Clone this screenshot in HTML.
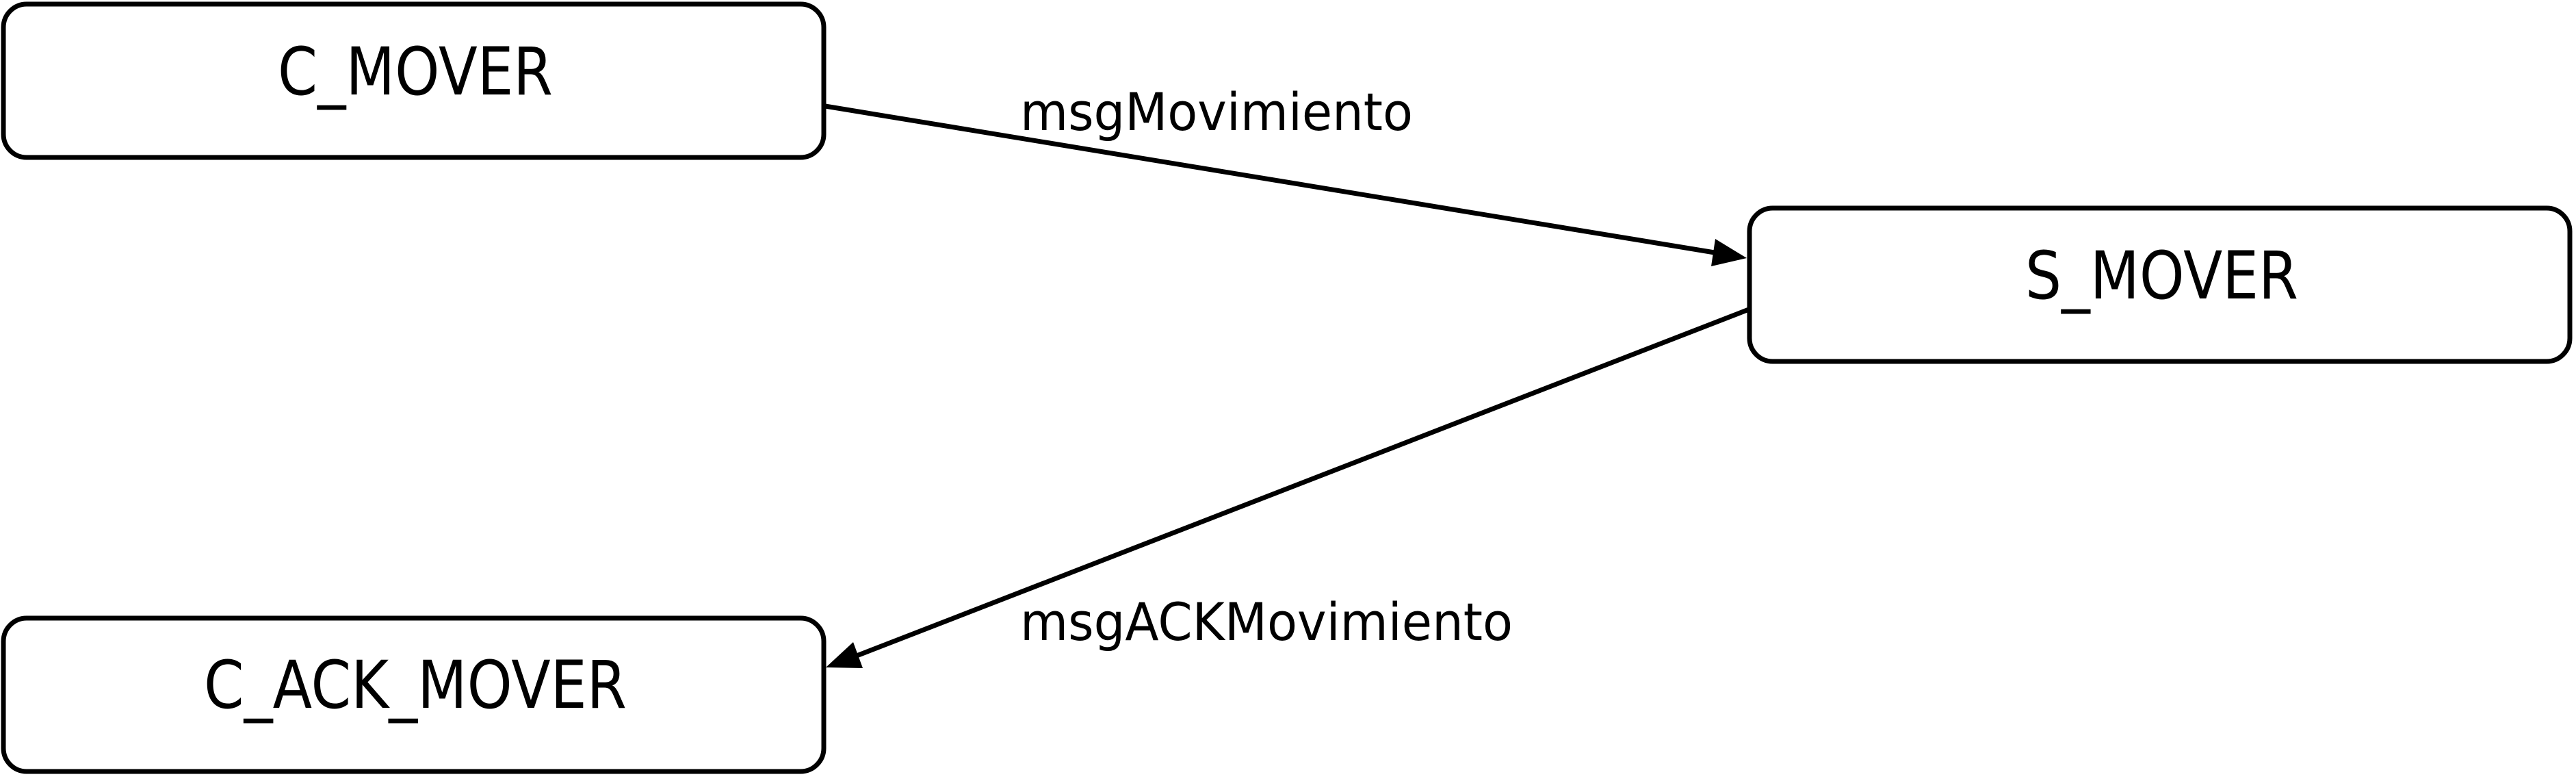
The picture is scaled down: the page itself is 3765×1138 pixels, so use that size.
<!DOCTYPE html>
<html><head><meta charset="utf-8"><style>html,body{margin:0;padding:0;background:#fff}svg{display:block}</style></head>
<body>
<svg width="3765" height="1138" viewBox="0 0 3765 1138" xmlns="http://www.w3.org/2000/svg">
<g fill="#fff" stroke="#000" stroke-width="7">
<rect x="5" y="6" width="1199" height="224" rx="34" ry="34"/>
<rect x="2557" y="304" width="1199" height="224" rx="34" ry="34"/>
<rect x="5" y="903" width="1199" height="224" rx="34" ry="34"/>
</g>
<g stroke="#000" stroke-width="7" fill="none">
<line x1="1206" y1="155" x2="2506" y2="369"/>
<line x1="2556" y1="452" x2="1252" y2="958"/>
</g>
<g fill="#000" stroke="none">
<polygon points="2553,377 2501,389 2507,349"/>
<polygon points="1207,975 1247,938 1261,976"/>
</g>
<g font-family="'DejaVu Sans','Liberation Sans',sans-serif" fill="#000">
<text x="406" y="138" font-size="96" textLength="402" lengthAdjust="spacingAndGlyphs">C_MOVER</text>
<text x="2960" y="436" font-size="96" textLength="399" lengthAdjust="spacingAndGlyphs">S_MOVER</text>
<text x="298" y="1034" font-size="96" textLength="618" lengthAdjust="spacingAndGlyphs">C_ACK_MOVER</text>
<text x="1491" y="190" font-size="76" textLength="574" lengthAdjust="spacingAndGlyphs">msgMovimiento</text>
<text x="1491" y="935" font-size="76" textLength="720" lengthAdjust="spacingAndGlyphs">msgACKMovimiento</text>
</g>
</svg>
</body></html>
